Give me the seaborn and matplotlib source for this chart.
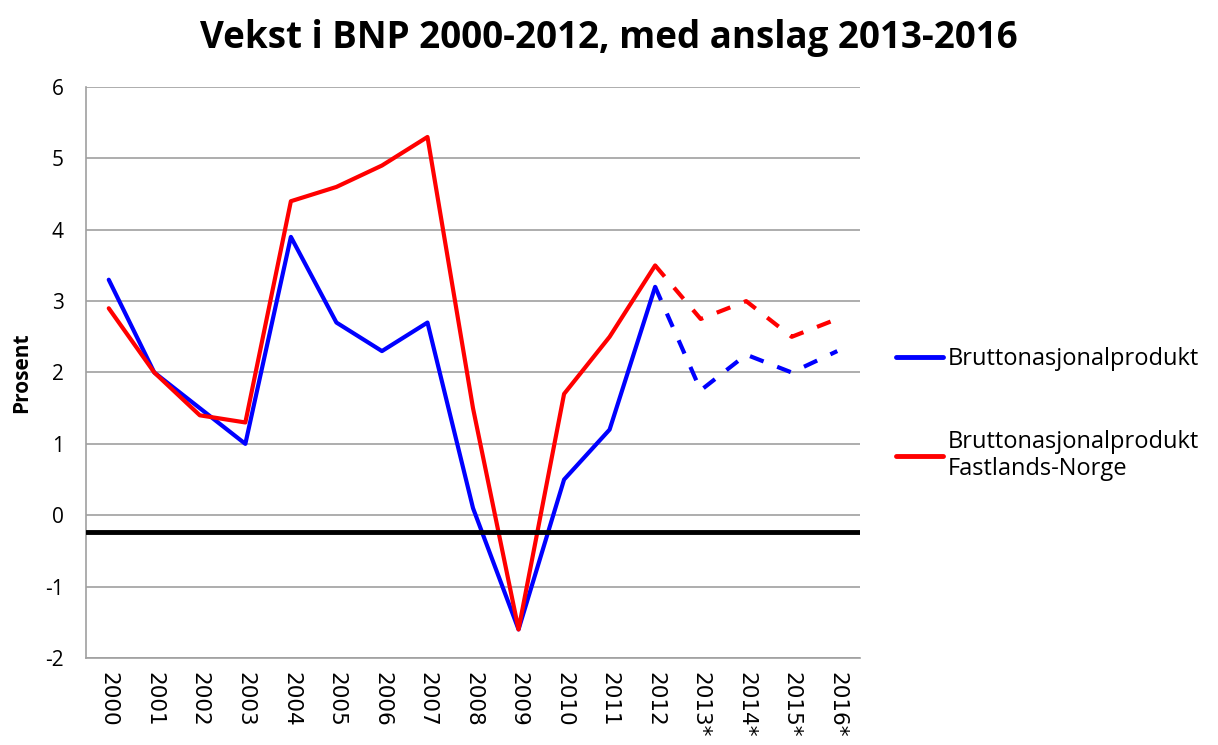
import pandas as pd
import matplotlib
matplotlib.use("Agg")
import matplotlib.pyplot as plt
import seaborn as sns
from matplotlib.lines import Line2D

years = ["2000", "2001", "2002", "2003", "2004", "2005", "2006", "2007", "2008",
         "2009", "2010", "2011", "2012", "2013*", "2014*", "2015*", "2016*"]
bnp = [3.3, 2.0, 1.5, 1.0, 3.9, 2.7, 2.3, 2.7, 0.1,
       -1.6, 0.5, 1.2, 3.2, 1.75, 2.25, 2.0, 2.3]
bnp_fastland = [2.9, 2.0, 1.4, 1.3, 4.4, 4.6, 4.9, 5.3, 1.5,
                -1.6, 1.7, 2.5, 3.5, 2.75, 3.0, 2.5, 2.75]
last_actual = "2012"
baseline = -0.24

sns.set_theme(style="white")
plt.rcParams["font.family"] = ["Open Sans", "DejaVu Sans"]
plt.rcParams["axes.unicode_minus"] = False
plt.rcParams["text.color"] = "black"
plt.rcParams["axes.labelcolor"] = "black"
plt.rcParams["xtick.color"] = "black"
plt.rcParams["ytick.color"] = "black"

df = pd.DataFrame({"pos": range(len(years)), "year": years,
                   "bnp": bnp, "fastland": bnp_fastland})
cut = years.index(last_actual)
actual = df.iloc[:cut + 1]
forecast = df.iloc[cut:]

fig = plt.figure(figsize=(12.18, 7.45), dpi=100)
ax = fig.add_axes([0.0706, 0.1168, 0.6355, 0.7664])

for col, color in [("bnp", "#0000ff"), ("fastland", "#ff0000")]:
    sns.lineplot(data=actual, x="pos", y=col, color=color, lw=3, ax=ax)
    sns.lineplot(data=forecast, x="pos", y=col, color=color, lw=3,
                 ax=ax, linestyle=(0, (3.5, 3.5)))

ax.axhline(baseline, color="black", lw=3.5, zorder=5)

ax.set_xlim(-0.5, len(years) - 0.5)
ax.set_ylim(-2, 6)
ax.set_yticks(range(-2, 7))
ax.yaxis.grid(True, color="#a0a0a0", lw=1.2)
ax.set_xticks(df["pos"])
ax.set_xticklabels(years, rotation=-90, va="top", ha="center",
                   fontfamily="DejaVu Sans", fontsize=15.5)
ax.tick_params(axis="y", labelsize=15, pad=16, length=0)
ax.tick_params(axis="x", length=0, pad=10)
for s in ["left", "bottom"]:
    ax.spines[s].set_color("#a0a0a0")
    ax.spines[s].set_linewidth(1.2)
for s in ["top", "right"]:
    ax.spines[s].set_visible(False)

ax.set_xlabel("")
ax.set_ylabel("Prosent", fontsize=15, fontweight="bold")
ax.yaxis.set_label_coords(-0.07, 0.5)
fig.suptitle("Vekst i BNP 2000-2012, med anslag 2013-2016",
             x=0.5, y=0.975, fontsize=26.5, fontweight="bold")

handles = [Line2D([], [], color="#0000ff", lw=3.5),
           Line2D([], [], color="#ff0000", lw=3.5)]
labels = ["Bruttonasjonalprodukt", "Bruttonasjonalprodukt\nFastlands-Norge"]
ax.legend(handles, labels, loc="center left", bbox_to_anchor=(1.019, 0.427),
          frameon=False, fontsize=17, handlelength=2.0, handletextpad=0.2,
          labelspacing=2.5)

fig.savefig("out.png", dpi=100)
